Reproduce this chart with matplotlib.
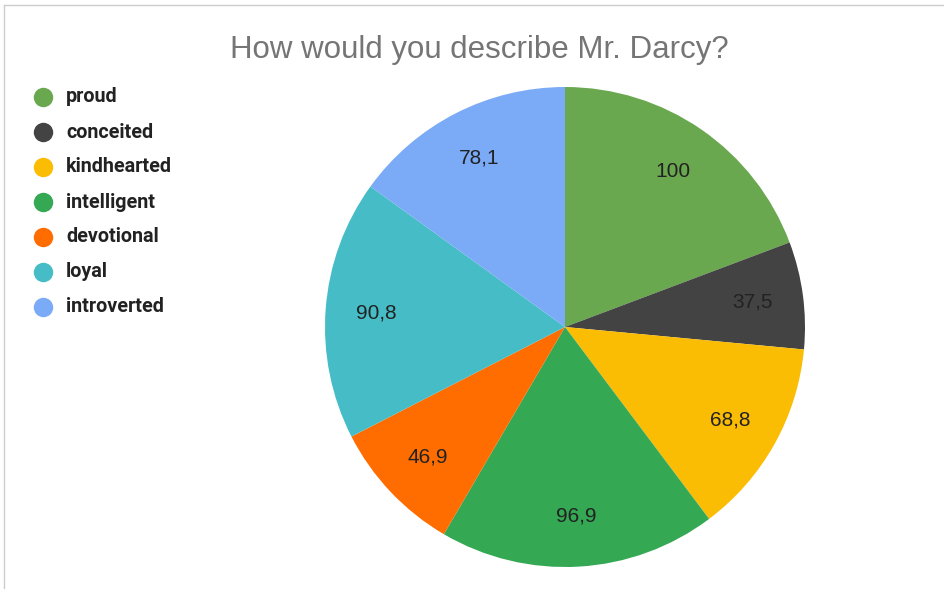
import matplotlib.pyplot as plt
from matplotlib.lines import Line2D

labels = ["proud", "conceited", "kindhearted", "intelligent", "devotional", "loyal", "introverted"]
values = [100, 37.5, 68.8, 96.9, 46.9, 90.8, 78.1]
colors = ["#6aa84f", "#434343", "#fbbc04", "#34a853", "#ff6d01", "#46bdc6", "#7baaf7"]

W, H = 945, 589
fig = plt.figure(figsize=(W / 100, H / 100), dpi=100)

# pie, centre (565, 327) px, radius 240 px
cx, cy, r = 565, 327, 240
ax = fig.add_axes([(cx - r) / W, (H - cy - r) / H, 2 * r / W, 2 * r / H])
wedges, texts = ax.pie(values, colors=colors, startangle=90, counterclock=False,
                       labels=[f"{v:g}".replace(".", ",") for v in values],
                       labeldistance=0.79,
                       textprops=dict(fontsize=15, color="#222222", family="Liberation Sans",
                                      ha="center", va="center"))
ax.set_xlim(-1, 1)
ax.set_ylim(-1, 1)
ax.set_aspect("equal")

fig.text(479 / W, 1 - 50 / H, "How would you describe Mr. Darcy?", ha="center", va="center",
         fontsize=22.5, color="#757575", family="Liberation Sans")

# legend
for i, (lab, col) in enumerate(zip(labels, colors)):
    y = 1 - (97 + 35 * i) / H
    fig.add_artist(Line2D([43 / W], [y], marker="o", markersize=14, color=col,
                          markeredgewidth=0, linestyle="none"))
    fig.text(66 / W, y, lab, ha="left", va="center", fontsize=14.2, fontweight="bold",
             color="#222222", family="Roboto")

# frame edges
fig.add_artist(Line2D([4 / W, 1], [1 - 5 / H, 1 - 5 / H], color="#cccccc", lw=1))
fig.add_artist(Line2D([4 / W, 4 / W], [0, 1 - 5 / H], color="#cccccc", lw=1))

fig.savefig("out.png", dpi=100)
